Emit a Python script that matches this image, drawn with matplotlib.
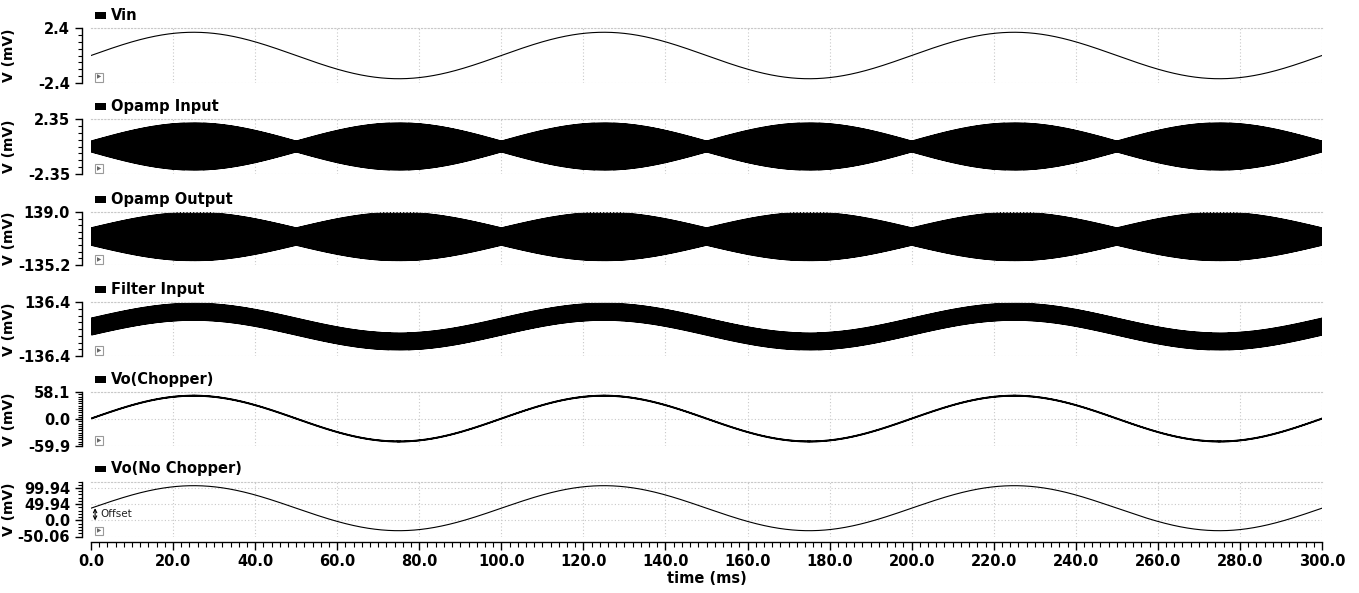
import numpy as np
import matplotlib
matplotlib.use("Agg")
import matplotlib.pyplot as plt
from matplotlib.patches import Rectangle
from matplotlib.ticker import FixedLocator, FixedFormatter

plt.rcParams['font.family'] = ['DejaVu Sans']
plt.rcParams['font.weight'] = 'bold'
plt.rcParams['axes.labelweight'] = 'bold'

# ---------------- data ----------------
panel_titles = ["Vin", "Opamp Input", "Opamp Output", "Filter Input",
                "Vo(Chopper)", "Vo(No Chopper)"]
y_limits = [(-2.4, 2.4), (-2.35, 2.35), (-135.2, 139.0), (-136.4, 136.4),
            (-59.9, 58.1), (-50.06, 121.0)]
y_major_ticks = [[-2.4, 2.4], [-2.35, 2.35], [-135.2, 139.0], [-136.4, 136.4],
                 [-59.9, 0.0, 58.1], [-50.06, 0.0, 49.94, 99.94]]
y_tick_labels = [["-2.4", "2.4"], ["-2.35", "2.35"], ["-135.2", "139.0"],
                 ["-136.4", "136.4"], ["-59.9", "0.0", "58.1"],
                 ["-50.06", "0.0", "49.94", "99.94"]]
y_minor_counts = [8, 8, 8, 8, 24, 17]

x_major_ticks = list(range(0, 301, 20))
x_tick_labels = ["%.1f" % v for v in x_major_ticks]

t_end_ms = 300.0
signal_period_ms = 100.0          # 10 Hz input
chop_period_ms = 0.2              # chopping clock

vin_amp = 2.05                    # mV
opin_center, opin_floor, opin_amp = 0.0, 0.45, 1.55          # mV
opout_center, opout_floor, opout_amp = 12.0, 44.0, 80.0      # mV
filt_center, filt_amp, filt_ripple = 12.0, 75.0, 42.0        # mV
vo_chop_amp, vo_chop_ripple = 50.0, 0.6                      # mV
vo_nochop_offset, vo_nochop_amp = 38.0, 70.0                 # mV

# ---------------- waveforms ----------------
t = np.linspace(0, t_end_ms, 240001)
phase = 2 * np.pi * t / signal_period_ms
sq = np.where((t / chop_period_ms) % 1.0 < 0.5, 1.0, -1.0)
s = np.sin(phase)

vin = vin_amp * s
opamp_in = opin_center + sq * (opin_floor + opin_amp * np.abs(s))
opamp_out = opout_center + sq * (opout_floor + opout_amp * np.abs(s))
filter_in = filt_center + filt_amp * s + filt_ripple * sq
vo_chop = vo_chop_amp * s + vo_chop_ripple * sq
vo_nochop = vo_nochop_offset + vo_nochop_amp * s
series = [vin, opamp_in, opamp_out, filter_in, vo_chop, vo_nochop]
line_widths = [0.8, 1.0, 1.0, 1.0, 1.0, 0.8]

# ---------------- layout ----------------
W, H = 1359, 593
fig = plt.figure(figsize=(W / 100, H / 100), dpi=100)
left_px, right_px = 91, 1322
tops = [28.3, 119, 212, 302, 392, 481.5]
bottoms = [82.7, 174, 265, 356, 446, 536.5]

grid_kw = dict(color="#c8c8c8", linestyle=(0, (1, 2)), linewidth=0.8)

for i in range(6):
    ax = fig.add_axes([left_px / W, 1 - bottoms[i] / H,
                       (right_px - left_px) / W, (bottoms[i] - tops[i]) / H])
    ax.plot(t, series[i], color="black", linewidth=line_widths[i],
            solid_joinstyle="miter")
    ax.set_xlim(0, t_end_ms)
    ax.set_ylim(*y_limits[i])

    # y axis
    ax.yaxis.set_major_locator(FixedLocator(y_major_ticks[i]))
    ax.yaxis.set_major_formatter(FixedFormatter(y_tick_labels[i]))
    lo, hi = y_limits[i]
    ax.yaxis.set_minor_locator(FixedLocator(np.linspace(lo, hi, y_minor_counts[i] + 1)))
    ax.tick_params(axis="y", which="major", direction="out", length=5,
                   width=1.0, pad=3.5, color="black", labelsize=10.5)
    ax.tick_params(axis="y", which="minor", direction="out", length=3,
                   width=0.8, color="black")
    ax.spines["left"].set_position(("outward", 6.5))
    ax.spines["left"].set_linewidth(1.0)
    ax.set_ylabel("V (mV)", fontweight="bold", fontsize=10)
    ax.yaxis.set_label_coords((16 - left_px) / (right_px - left_px), 0.5)

    # x axis
    ax.xaxis.set_major_locator(FixedLocator(x_major_ticks))
    ax.spines["right"].set_visible(False)
    ax.spines["top"].set_color("#c8c8c8")
    ax.spines["top"].set_linestyle((0, (1, 2)))
    ax.spines["top"].set_linewidth(0.8)
    ax.grid(True, which="major", axis="both", **grid_kw)

    if i < 5:
        ax.spines["bottom"].set_visible(False)
        ax.tick_params(axis="x", which="both", length=0, labelbottom=False)
    else:
        ax.xaxis.set_major_formatter(FixedFormatter(x_tick_labels))
        ax.xaxis.set_minor_locator(FixedLocator(np.arange(0, 301, 2)))
        ax.spines["bottom"].set_position(("outward", 4))
        ax.spines["bottom"].set_linewidth(1.0)
        ax.tick_params(axis="x", which="major", direction="out", length=6,
                       width=1.0, pad=2.5, labelsize=10.5)
        ax.tick_params(axis="x", which="minor", direction="out", length=3.5,
                       width=0.8)
        ax.set_xlabel("time (ms)", fontweight="bold", fontsize=10.5, labelpad=1.5)
        # offset annotation
        ax.annotate("", xy=(1.0, 0.0), xytext=(1.0, vo_nochop_offset),
                    arrowprops=dict(arrowstyle="<->", lw=0.8, color="black",
                                    mutation_scale=6, shrinkA=0, shrinkB=0))
        ax.text(2.2, vo_nochop_offset / 2, "Offset", fontsize=7.5,
                fontweight="normal", va="center", ha="left", color="#222222")

    # hide the gridline at x = 0
    gl = ax.get_xgridlines()
    if gl:
        gl[0].set_visible(False)

    # small play-box icon
    ax.annotate("\u25B6", xy=(0, 0), xycoords="axes fraction",
                xytext=(4.5, 2.2), textcoords="offset points",
                fontsize=4, color="#666666", ha="left", va="bottom",
                fontweight="normal",
                bbox=dict(boxstyle="square,pad=0.35", fc="white",
                          ec="#9a9a9a", lw=0.8))

    # panel title with black marker
    ty = tops[i] - 12.5
    fig.patches.append(Rectangle(((95) / W, 1 - (ty + 3.4) / H), 11 / W, 6.8 / H,
                                 transform=fig.transFigure, facecolor="black",
                                 edgecolor="none"))
    fig.text(111 / W, 1 - ty / H, panel_titles[i], fontsize=10.5,
             fontweight="bold", ha="left", va="center")

fig.savefig("out.png", dpi=100)
